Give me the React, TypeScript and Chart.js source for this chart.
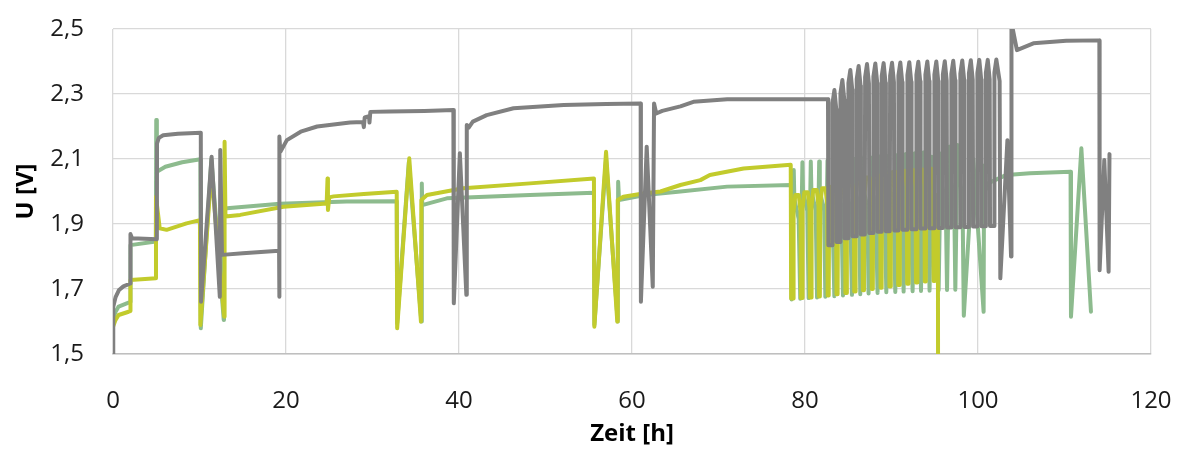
import React, { useEffect, useRef } from "react";
import { Chart, registerables } from "chart.js";

Chart.register(...registerables);

type P = [number, number];

const xTicks = [0, 20, 40, 60, 80, 100, 120];
const xTickLabels = ["0", "20", "40", "60", "80", "100", "120"];
const yTicks = [1.5, 1.7, 1.9, 2.1, 2.3, 2.5];
const yTickLabels = ["1,5", "1,7", "1,9", "2,1", "2,3", "2,5"];

const xTitle = "Zeit [h]";
const yTitle = "U [V]";

// ---- gray series ----
const grayStart: P[] = [
  [0, 1.5], [0.03, 1.645], [0.3, 1.675], [0.7, 1.697], [1.2, 1.708], [2.0, 1.717],
  [2.02, 1.869], [2.2, 1.856], [5.07, 1.853], [5.09, 2.148], [5.3, 2.165], [5.8, 2.173],
  [7.5, 2.178], [10.15, 2.181], [10.18, 1.661], [11.4, 2.107], [12.35, 1.676], [12.4, 2.128],
  [12.6, 1.805], [15.0, 1.81], [19.2, 1.818], [19.22, 1.676], [19.25, 2.169], [19.35, 2.122],
  [20.1, 2.158], [21.7, 2.184], [23.6, 2.2], [27.4, 2.212], [28.9, 2.214], [29.0, 2.198],
  [29.1, 2.228], [29.6, 2.232], [29.65, 2.212], [29.75, 2.245], [32.0, 2.246], [36.0, 2.248],
  [39.35, 2.251], [39.4, 1.656], [40.1, 2.118], [40.85, 1.682], [40.9, 2.205], [41.1, 2.196],
  [41.6, 2.215], [43.2, 2.235], [46.3, 2.256], [52.1, 2.266], [57.0, 2.269], [61.0, 2.271],
  [61.03, 1.661], [61.7, 2.138], [62.4, 1.707], [62.55, 2.271], [62.8, 2.24], [63.5, 2.248],
  [65.6, 2.262], [67.1, 2.276], [71.0, 2.284], [82.66, 2.284], [82.7, 1.835],
];
const grayCycles: P[] = [
  [83.14, 1.835], [83.18, 2.272], [83.4, 2.312], [83.62, 2.252], [83.66, 1.845],
  [84.06, 1.845], [84.1, 2.303], [84.32, 2.343], [84.54, 2.283], [84.58, 1.856],
  [84.98, 1.856], [85.02, 2.334], [85.24, 2.374], [85.46, 2.314], [85.5, 1.862],
  [85.94, 1.862], [85.98, 2.346], [86.2, 2.386], [86.42, 2.326], [86.46, 1.868],
  [86.91, 1.868], [86.95, 2.352], [87.17, 2.392], [87.39, 2.332], [87.43, 1.872],
  [87.87, 1.872], [87.91, 2.354], [88.13, 2.394], [88.35, 2.334], [88.39, 1.876],
  [88.83, 1.876], [88.87, 2.355], [89.09, 2.395], [89.31, 2.335], [89.35, 1.878],
  [89.8, 1.878], [89.84, 2.356], [90.06, 2.396], [90.28, 2.336], [90.32, 1.88],
  [90.76, 1.88], [90.8, 2.357], [91.02, 2.397], [91.24, 2.337], [91.28, 1.882],
  [91.8, 1.882], [91.84, 2.358], [92.06, 2.398], [92.28, 2.338], [92.32, 1.884],
  [92.84, 1.884], [92.88, 2.359], [93.1, 2.399], [93.32, 2.339], [93.36, 1.886],
  [93.88, 1.886], [93.92, 2.36], [94.14, 2.4], [94.36, 2.34], [94.4, 1.887],
  [94.92, 1.887], [94.96, 2.36], [95.18, 2.4], [95.4, 2.34], [95.44, 1.888],
  [95.9, 1.888], [95.94, 2.361], [96.16, 2.401], [96.38, 2.341], [96.42, 1.889],
  [96.88, 1.889], [96.92, 2.362], [97.14, 2.402], [97.36, 2.342], [97.4, 1.89],
  [97.92, 1.89], [97.96, 2.363], [98.18, 2.403], [98.4, 2.343], [98.44, 1.891],
  [98.91, 1.891], [98.95, 2.364], [99.17, 2.404], [99.39, 2.344], [99.43, 1.892],
  [99.89, 1.892], [99.93, 2.365], [100.15, 2.405], [100.37, 2.345], [100.41, 1.893],
  [100.87, 1.893], [100.91, 2.365], [101.13, 2.405], [101.35, 2.345], [101.39, 1.894],
  [101.86, 1.894], [101.9, 2.366], [102.12, 2.406], [102.5, 2.34], [102.58, 1.733],
];
const grayEnd: P[] = [
  [103.4, 2.158], [103.82, 1.8], [103.87, 2.52], [104.5, 2.435], [106.4, 2.456],
  [110.2, 2.464], [114.03, 2.465], [114.06, 1.758], [114.6, 2.097], [115.1, 1.753],
  [115.2, 2.115],
];

// ---- green series ----
const greenStart: P[] = [
  [0, 1.605], [0.3, 1.63], [0.65, 1.646], [1.8, 1.658], [2.0, 1.66], [2.02, 1.835],
  [4.95, 1.846], [5.0, 2.22], [5.07, 2.061], [6.05, 2.076], [8.0, 2.09], [10.1, 2.099],
  [10.15, 1.579], [11.37, 2.1], [12.8, 1.605], [12.83, 1.948], [19.3, 1.962], [27.0, 1.969],
  [32.8, 1.97], [32.85, 1.595], [34.2, 2.09], [35.65, 1.6], [35.7, 2.025], [35.75, 1.958],
  [38.6, 1.979], [48.2, 1.989], [55.6, 1.996], [55.65, 1.59], [57.0, 2.1], [58.35, 1.6],
  [58.4, 2.03], [58.5, 1.974], [61.5, 1.989], [65.6, 2.0], [71.0, 2.015], [78.4, 2.02],
];
const greenCycles: P[] = [
  [78.45, 1.668], [78.7, 2.066], [78.77, 1.976], [79.27, 1.916],
  [79.45, 1.67], [79.7, 2.09], [79.77, 2.0], [80.27, 1.94],
  [80.42, 1.672], [80.67, 2.092], [80.74, 2.002], [81.24, 1.942],
  [81.39, 1.674], [81.64, 2.092], [81.71, 2.002], [82.21, 1.942],
  [82.35, 1.676], [82.6, 2.095], [82.67, 2.005], [83.17, 1.945],
  [83.39, 1.678], [83.64, 2.098], [83.71, 2.008], [84.21, 1.948],
  [84.39, 1.68], [84.64, 2.1], [84.71, 2.01], [85.21, 1.95],
  [85.43, 1.682], [85.68, 2.1], [85.75, 2.01], [86.25, 1.95],
  [86.39, 1.684], [86.64, 2.102], [86.71, 2.012], [87.21, 1.952],
  [87.35, 1.686], [87.6, 2.105], [87.67, 2.015], [88.17, 1.955],
  [88.39, 1.688], [88.64, 2.108], [88.71, 2.018], [89.21, 1.958],
  [89.4, 1.69], [89.65, 2.11], [89.72, 2.02], [90.22, 1.96],
  [90.44, 1.691], [90.69, 2.112], [90.76, 2.022], [91.26, 1.962],
  [91.4, 1.692], [91.65, 2.115], [91.72, 2.025], [92.22, 1.965],
  [92.44, 1.693], [92.69, 2.118], [92.76, 2.028], [93.26, 1.968],
  [93.41, 1.694], [93.66, 2.12], [93.73, 2.03], [94.23, 1.97],
  [94.4, 1.695], [94.65, 2.107], [94.72, 2.017], [95.22, 1.957],
  [95.45, 1.696], [95.7, 2.117], [95.77, 2.027], [96.27, 1.967],
  [96.42, 1.697], [96.67, 2.138], [96.74, 2.048], [97.24, 1.988],
  [97.38, 1.698], [97.63, 2.143], [97.7, 2.053], [98.2, 1.993],
];
const greenEnd: P[] = [
  [98.36, 1.618], [99.45, 2.1], [100.65, 1.63], [100.7, 2.08], [100.8, 2.0], [101.2, 2.026],
  [103.3, 2.051], [106.0, 2.056], [110.7, 2.061], [110.75, 1.615], [111.95, 2.133],
  [113.06, 1.63],
];

// ---- yellow-green series ----
const yellowStart: P[] = [
  [0, 1.584], [0.3, 1.605], [0.65, 1.62], [1.8, 1.63], [2.0, 1.632], [2.02, 1.728],
  [4.95, 1.733], [4.97, 1.984], [5.4, 1.887], [6.2, 1.882], [8.5, 1.902], [10.05, 1.912],
  [10.1, 1.589], [11.37, 2.06], [12.85, 1.615], [12.9, 2.153], [13.0, 1.923], [14.7, 1.928],
  [19.7, 1.953], [24.7, 1.963], [24.8, 2.04], [24.85, 1.943], [25.0, 1.982], [25.5, 1.985],
  [29.0, 1.992], [32.8, 1.999], [32.85, 1.579], [34.25, 2.102], [35.6, 1.6], [35.65, 1.974],
  [36.3, 1.989], [40.5, 2.01], [48.2, 2.025], [55.6, 2.04], [55.65, 1.584], [57.0, 2.122],
  [58.3, 1.6], [58.35, 1.974], [59.0, 1.984], [61.3, 1.994], [63.3, 2.0], [65.6, 2.02],
  [67.9, 2.035], [69.0, 2.051], [72.9, 2.071], [78.35, 2.082], [78.4, 1.671],
];
const yellowCycles: P[] = [
  [78.63, 1.671], [78.68, 1.939], [78.88, 1.989], [79.28, 1.989], [79.48, 1.939], [79.53, 1.672],
  [79.67, 1.672], [79.72, 1.948], [79.92, 1.998], [80.32, 1.998], [80.52, 1.948], [80.57, 1.674],
  [80.71, 1.674], [80.76, 1.955], [80.96, 2.005], [81.36, 2.005], [81.56, 1.955], [81.61, 1.677],
  [81.72, 1.677], [81.77, 1.96], [81.97, 2.01], [82.37, 2.01], [82.57, 1.96], [82.62, 1.68],
  [82.74, 1.68], [82.79, 1.965], [82.99, 2.015], [83.39, 2.015], [83.59, 1.965], [83.64, 1.684],
  [83.77, 1.684], [83.82, 1.97], [84.02, 2.02], [84.42, 2.02], [84.62, 1.97], [84.67, 1.688],
  [84.79, 1.688], [84.84, 1.977], [85.04, 2.027], [85.44, 2.027], [85.64, 1.977], [85.69, 1.692],
  [85.8, 1.692], [85.85, 1.985], [86.05, 2.035], [86.45, 2.035], [86.65, 1.985], [86.7, 1.696],
  [86.82, 1.696], [86.87, 1.993], [87.07, 2.043], [87.47, 2.043], [87.67, 1.993], [87.72, 1.7],
  [87.84, 1.7], [87.89, 2.0], [88.09, 2.05], [88.49, 2.05], [88.69, 2.0], [88.74, 1.704],
  [88.86, 1.704], [88.91, 2.005], [89.11, 2.055], [89.51, 2.055], [89.71, 2.005], [89.76, 1.708],
  [89.87, 1.708], [89.92, 2.01], [90.12, 2.06], [90.52, 2.06], [90.72, 2.01], [90.77, 1.712],
  [90.91, 1.712], [90.96, 2.014], [91.16, 2.064], [91.56, 2.064], [91.76, 2.014], [91.81, 1.716],
  [91.93, 1.716], [91.98, 2.016], [92.18, 2.066], [92.58, 2.066], [92.78, 2.016], [92.83, 1.72],
  [92.95, 1.72], [93.0, 2.018], [93.2, 2.068], [93.6, 2.068], [93.8, 2.018], [93.85, 1.723],
  [93.97, 1.723], [94.02, 2.02], [94.22, 2.07], [94.62, 2.07], [94.82, 2.02], [94.87, 1.725],
];
const yellowEnd: P[] = [
  [95.0, 1.725], [95.05, 1.96], [95.25, 1.99], [95.36, 1.96], [95.38, 1.5],
];

const grayColor = "#808080";
const greenColor = "#8dbb8e";
const yellowColor = "#c2cb2c";

const toXY = (parts: P[][]) => parts.flat().map(([x, y]) => ({ x, y }));

export default function App() {
  const ref = useRef<HTMLCanvasElement | null>(null);

  useEffect(() => {
    if (!ref.current) return;
    const lineStyle = {
      borderWidth: 4,
      pointRadius: 0,
      pointHoverRadius: 0,
      tension: 0,
      fill: false,
      borderJoinStyle: "round" as const,
      borderCapStyle: "round" as const,
    };
    const chart = new Chart(ref.current, {
      type: "line",
      data: {
        datasets: [
          { label: "A", data: toXY([grayStart, grayCycles, grayEnd]), borderColor: grayColor, backgroundColor: grayColor, ...lineStyle },
          { label: "B", data: toXY([yellowStart, yellowCycles, yellowEnd]), borderColor: yellowColor, backgroundColor: yellowColor, ...lineStyle },
          { label: "C", data: toXY([greenStart, greenCycles, greenEnd]), borderColor: greenColor, backgroundColor: greenColor, ...lineStyle },
        ],
      },
      options: {
        animation: false,
        responsive: false,
        events: [],
        layout: { padding: { left: 12, right: 31, top: 29, bottom: 0 } },
        plugins: { legend: { display: false }, tooltip: { enabled: false } },
        scales: {
          x: {
            type: "linear",
            min: 0,
            max: 120,
            afterBuildTicks: (s: any) => { s.ticks = xTicks.map((v) => ({ value: v })); },
            afterFit: (s: any) => {
              s.height = 95;
              s.paddingLeft = 0;
              s.paddingRight = 0;
            },
            ticks: {
              padding: 33,
              color: "#1a1a1a",
              font: { family: "Open Sans", size: 24 },
              callback: (_v: any, i: number) => xTickLabels[i],
              maxRotation: 0,
              autoSkip: false,
            },
            grid: { color: "#d9d9d9", lineWidth: 1.3, drawTicks: false },
            border: { display: true, color: "#bfbfbf", width: 1.5 },
            title: {
              display: true,
              text: xTitle,
              color: "#000",
              font: { family: "Open Sans", size: 24, weight: "bold" },
              padding: { top: 0, bottom: 0 },
            },
          },
          y: {
            type: "linear",
            min: 1.5,
            max: 2.5,
            afterBuildTicks: (s: any) => { s.ticks = yTicks.map((v) => ({ value: v })); },
            afterFit: (s: any) => {
              s.width = 101;
              s.paddingTop = 0;
              s.paddingBottom = 0;
            },
            ticks: {
              padding: 29,
              color: "#1a1a1a",
              font: { family: "Open Sans", size: 24 },
              callback: (_v: any, i: number) => yTickLabels[i],
              autoSkip: false,
            },
            grid: { color: "#d9d9d9", lineWidth: 1.3, drawTicks: false },
            border: { display: false },
            title: {
              display: true,
              text: yTitle,
              color: "#000",
              font: { family: "Open Sans", size: 24, weight: "bold" },
              padding: { top: 0, bottom: 0 },
            },
          },
        },
      },
    });
    return () => chart.destroy();
  }, []);

  return (
    <div style={{ position: "fixed", left: 0, top: 0, width: 1182, height: 449, background: "#fff" }}>
      <canvas ref={ref} width={1182} height={449} style={{ display: "block" }} />
    </div>
  );
}
